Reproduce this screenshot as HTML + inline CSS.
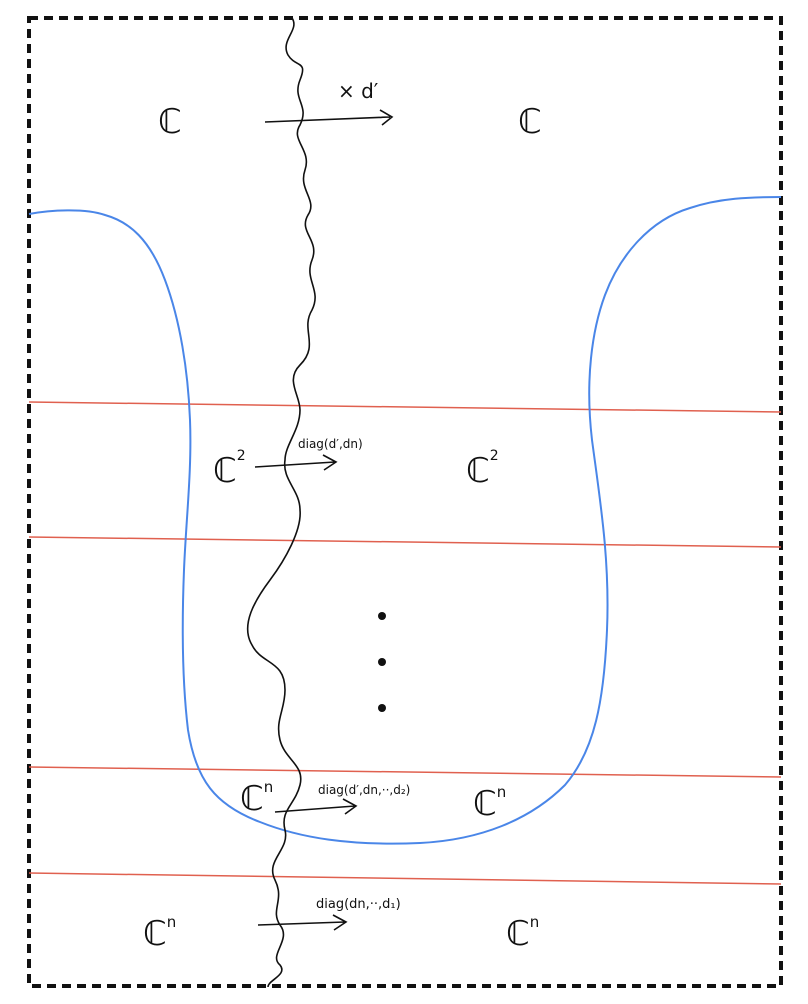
<!DOCTYPE html>
<html><head><meta charset="utf-8"><style>
html,body{margin:0;padding:0;background:#fff}
svg{display:block}
text{font-family:"DejaVu Sans","Liberation Sans",sans-serif;fill:#111}
</style></head><body>
<svg width="808" height="1004" viewBox="0 0 808 1004">
<rect x="29" y="18" width="752" height="968" fill="none" stroke="#111" stroke-width="4" stroke-dasharray="9,6"/>
<g stroke="#e0604f" stroke-width="1.5">
<line x1="29" y1="402" x2="781" y2="412"/>
<line x1="29" y1="537" x2="781" y2="547"/>
<line x1="29" y1="767" x2="781" y2="777"/>
<line x1="29" y1="873" x2="781" y2="884"/>
</g>
<path d="M29,214 C50,210 85,208 105,215 C130,222 150,240 165,280 C180,320 188,370 190,420 C192,470 186,520 184,570 C182,620 182,680 188,730 C196,780 215,805 260,822 C300,838 350,846 420,843 C480,840 530,820 565,785 C595,750 604,700 607,630 C610,560 600,500 592,440 C585,380 592,330 605,295 C620,255 650,220 690,208 C720,198 750,197 781,197" fill="none" stroke="#4a86e8" stroke-width="2"/>
<path d="M292,18 C300,30 280,40 288,55 C296,68 308,60 300,80 C292,100 310,105 300,125 C290,140 312,150 305,170 C298,190 318,200 308,215 C298,232 320,240 312,260 C304,280 322,290 312,310 C300,330 320,345 300,365 C285,380 300,395 300,410 C300,430 285,445 285,460 C282,480 300,490 300,510 C302,530 285,560 270,580 C255,600 240,625 252,645 C262,665 285,660 285,690 C285,710 275,720 280,740 C285,760 305,765 300,785 C295,805 280,810 285,830 C290,850 265,860 275,880 C285,900 270,910 280,925 C292,940 268,955 280,965 C288,975 268,980 268,987" fill="none" stroke="#111" stroke-width="1.6"/>
<g stroke="#111" stroke-width="1.6" fill="none">
<path d="M265,122 L390,117 M380,110 L392,117 L382,125"/>
<path d="M255,467 L335,462 M323,455 L336,462 L324,470"/>
<path d="M275,812 L355,806 M343,799 L356,806 L345,814"/>
<path d="M258,925 L345,922 M333,915 L346,922 L334,930"/>
</g>
<g font-size="34">
<text x="158" y="133">ℂ</text>
<text x="518" y="133">ℂ</text>
<text x="213" y="482">ℂ<tspan font-size="14" dy="-22">2</tspan></text>
<text x="466" y="482">ℂ<tspan font-size="14" dy="-22">2</tspan></text>
<text x="240" y="810">ℂ<tspan font-size="15" dy="-18">n</tspan></text>
<text x="473" y="815">ℂ<tspan font-size="15" dy="-18">n</tspan></text>
<text x="143" y="945">ℂ<tspan font-size="15" dy="-18">n</tspan></text>
<text x="506" y="945">ℂ<tspan font-size="15" dy="-18">n</tspan></text>
</g>
<text x="338" y="98" font-size="20">× d′</text>
<text x="298" y="448" font-size="12">diag(d′,dn)</text>
<text x="318" y="794" font-size="12">diag(d′,dn,··,d₂)</text>
<text x="316" y="908" font-size="13">diag(dn,··,d₁)</text>
<g fill="#111">
<circle cx="382" cy="616" r="4"/>
<circle cx="382" cy="662" r="4"/>
<circle cx="382" cy="708" r="4"/>
</g>
</svg>
</body></html>
